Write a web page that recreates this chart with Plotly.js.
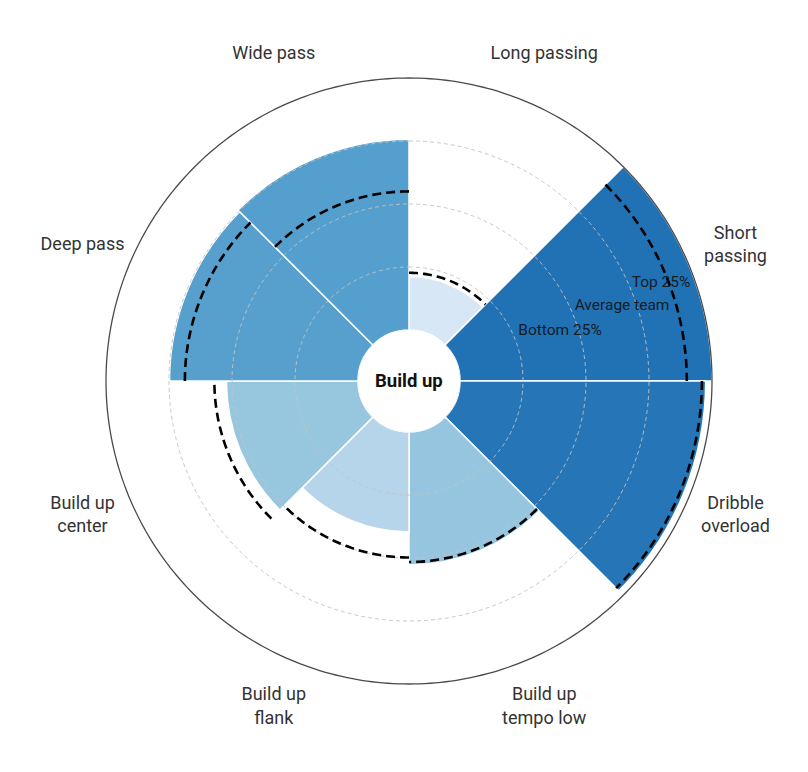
<!DOCTYPE html>
<html>
<head>
<meta charset="utf-8">
<script src="https://cdn.plot.ly/plotly-3.0.1.min.js"></script>
<style>html,body{margin:0;padding:0;background:#fff;}#chart{width:808px;height:772px;}</style>
</head>
<body>
<div id="chart"></div>
<script>
// ---- data ----
const categories = ['Long passing', 'Short<br>passing', 'Dribble<br>overload', 'Build up<br>tempo low',
                    'Build up<br>flank', 'Build up<br>center', 'Deep pass', 'Wide pass'];
const values = [21.2, 100, 97.5, 52.8, 39.7, 52.2, 74.8, 75.7];
const averageTeam = [22.7, 90, 96, 51.6, 49.8, 57, 68.7, 55];
const gridValues = [25, 50, 75];
const centerTitle = 'Build up';
const legendTexts = ['Top 25%', 'Average team', 'Bottom 25%'];
const legendR = [87.1, 69.4, 42.9];
const legendTheta = [68.7, 70.6, 71.7];

// ---- geometry / style ----
const N = categories.length;
const SECTOR = 360 / N;
const thetaCenters = categories.map((_, i) => i * SECTOR + SECTOR / 2);
const R_MAX = 125;      // radial range (room for labels)
const OUTER = 100;      // outer circle value
const LABEL_R = 120;

const blues = [[0, '#f7fbff'], [0.125, '#deebf7'], [0.25, '#c6dbef'], [0.375, '#9ecae1'],
               [0.5, '#6baed6'], [0.625, '#4292c6'], [0.75, '#2171b5'], [0.875, '#08519c'], [1, '#08306b']];

function circle(rv) {
  const r = [], t = [];
  for (let a = 0; a <= 360; a += 1) { r.push(rv); t.push(a); }
  return {r, t};
}

// grid circles
const gR = [], gT = [];
gridValues.forEach(v => { const c = circle(v); gR.push(...c.r, null); gT.push(...c.t, null); });

// reference arcs
const aR = [], aT = [];
averageTeam.forEach((v, i) => {
  for (let a = i * SECTOR; a <= (i + 1) * SECTOR + 1e-9; a += 1) { aR.push(v); aT.push(a); }
  aR.push(null); aT.push(null);
});

const outer = circle(OUTER);

const traces = [
  {type: 'scatterpolar', mode: 'lines', r: outer.r, theta: outer.t,
   line: {color: '#4a4a4a', width: 1.3}, hoverinfo: 'skip', showlegend: false},
  {type: 'barpolar', r: values, theta: thetaCenters, width: Array(N).fill(SECTOR),
   marker: {color: values, colorscale: blues, cmin: 0, cmax: 133, line: {color: '#ffffff', width: 1.5}},
   hoverinfo: 'skip', showlegend: false},
  {type: 'scatterpolar', mode: 'lines', r: gR, theta: gT, connectgaps: false,
   line: {color: 'rgba(195,195,195,0.9)', width: 1, dash: '4px,3px'}, hoverinfo: 'skip', showlegend: false},
  {type: 'scatterpolar', mode: 'lines', r: aR, theta: aT, connectgaps: false,
   line: {color: '#000000', width: 2.6, dash: '9px,5px'}, hoverinfo: 'skip', showlegend: false},
  {type: 'scatterpolar', mode: 'text', r: legendR, theta: legendTheta, text: legendTexts,
   textposition: 'middle center', textfont: {family: 'Roboto, sans-serif', size: 15.5, color: '#141c26'},
   hoverinfo: 'skip', showlegend: false},
  {type: 'scatterpolar', mode: 'text', r: Array(N).fill(LABEL_R), theta: thetaCenters, text: categories,
   textposition: 'middle center', textfont: {family: 'Roboto, sans-serif', size: 18, color: '#333333'},
   hoverinfo: 'skip', showlegend: false}
];

const W = 808, H = 772;
const cx = 409, cy = 381, Rpx = 366;
const domX = [(cx - Rpx) / W, (cx + Rpx) / W];
const domY = [(H - cy - Rpx) / H, (H - cy + Rpx) / H];

const layout = {
  width: W, height: H,
  margin: {l: 0, r: 0, t: 0, b: 0},
  paper_bgcolor: '#ffffff',
  showlegend: false,
  hovermode: false,
  font: {family: 'Roboto, sans-serif'},
  polar: {
    domain: {x: domX, y: domY},
    hole: 51 / 366,
    bgcolor: 'rgba(0,0,0,0)',
    radialaxis: {range: [0, R_MAX], showgrid: false, showline: false, showticklabels: false, ticks: ''},
    angularaxis: {direction: 'clockwise', rotation: 90, showgrid: false, showline: false,
                  showticklabels: false, ticks: ''}
  },
  annotations: [{
    text: '<b>' + centerTitle + '</b>', xref: 'paper', yref: 'paper',
    x: (domX[0] + domX[1]) / 2, y: (domY[0] + domY[1]) / 2, showarrow: false,
    font: {family: 'Roboto, sans-serif', size: 18.5, color: '#111111'}
  }]
};

Plotly.newPlot('chart', traces, layout, {displayModeBar: false, staticPlot: true});
</script>
</body>
</html>
